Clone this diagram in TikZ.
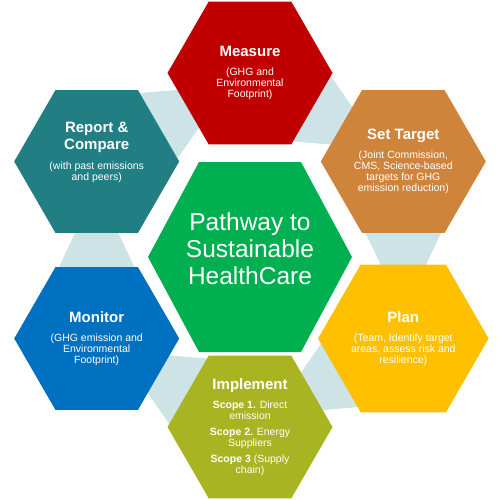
\documentclass[tikz,border=0pt]{standalone}
\usepackage{fontspec}
\setmainfont{Liberation Sans}
\usetikzlibrary{shapes.geometric,calc,backgrounds}

\definecolor{measurered}{HTML}{C00000}
\definecolor{targetorange}{HTML}{CF843C}
\definecolor{planyellow}{HTML}{FFC000}
\definecolor{implementolive}{HTML}{A9B423}
\definecolor{monitorblue}{HTML}{0070C0}
\definecolor{reportteal}{HTML}{217F84}
\definecolor{hubgreen}{HTML}{00B050}
\definecolor{linkgrey}{HTML}{CDE3E5}

\newcommand{\stagefont}{\fontsize{10.5}{11}\selectfont\lineskiplimit=-\maxdimen}
\newcommand{\stagetitle}[1]{{\fontsize{15}{17}\selectfont\bfseries #1}}

\tikzstyle{stage} = [regular polygon,regular polygon sides=6,minimum size=165pt,inner sep=0pt,align=center,text=white,font=\stagefont]
\tikzstyle{link} = [fill=linkgrey]

\begin{document}
\begin{tikzpicture}[x=1pt,y=-1pt]
	\useasboundingbox (0,0) rectangle (500,500);
	% outer ring
	\node (measure) [stage,fill=measurered] at (250,73) {\stagetitle{Measure}\\[8.5pt](GHG and\\Environmental\\Footprint)};
	\node (settarget) [stage,fill=targetorange] at (403.3,161.5) {\stagetitle{Set Target}\\[8.5pt](Joint Commission,\\CMS, Science-based\\targets for GHG\\emission reduction)};
	\node (plan) [stage,fill=planyellow] at (403.3,338.5) {\stagetitle{Plan}\\[8.5pt](Team, Identify target\\areas, assess risk and\\resilience)};
	\node (implement) [stage,fill=implementolive] at (250,427) {\stagetitle{Implement}\\[8.5pt]\textbf{Scope 1.} Direct\\emission\\[5pt]\textbf{Scope 2.} Energy\\Suppliers\\[5pt]\textbf{Scope 3} (Supply\\chain)};
	\node (monitor) [stage,fill=monitorblue] at (96.7,338.5) {\stagetitle{Monitor}\\[8.5pt](GHG emission and\\Environmental\\Footprint)};
	\node (report) [stage,fill=reportteal] at (96.7,161.5) {\stagetitle{Report \&}\\[6pt]\stagetitle{Compare}\\[8.5pt](with past emissions\\and peers)\\[9pt]\mbox{}};
	% hub
	\coordinate (hubc) at (250,257);
	\node (hub) [text=white,align=center,font=\fontsize{24.5}{27}\selectfont] at (250,248.5) {Pathway to\\Sustainable\\HealthCare};
	% connections
	\begin{scope}[on background layer]
		\fill[hubgreen] ($(hubc)+(-102,0)$) -- ($(hubc)+(-51,-95)$) -- ($(hubc)+(51,-95)$) -- ($(hubc)+(102,0)$) -- ($(hubc)+(51,95)$) -- ($(hubc)+(-51,95)$) -- cycle;
		\foreach \a/\b in {measure/settarget,settarget/plan,plan/implement,implement/monitor,monitor/report,report/measure} {
			\path (\a.center) -- (\b.center) coordinate[pos=0.856] (tip) coordinate[pos=0.161] (tail);
			\fill[link] (tip) -- ($(tail)!58pt!90:(\b.center)$) -- ($(tail)!58pt!-90:(\b.center)$) -- cycle;
		}
	\end{scope}
\end{tikzpicture}
\end{document}
